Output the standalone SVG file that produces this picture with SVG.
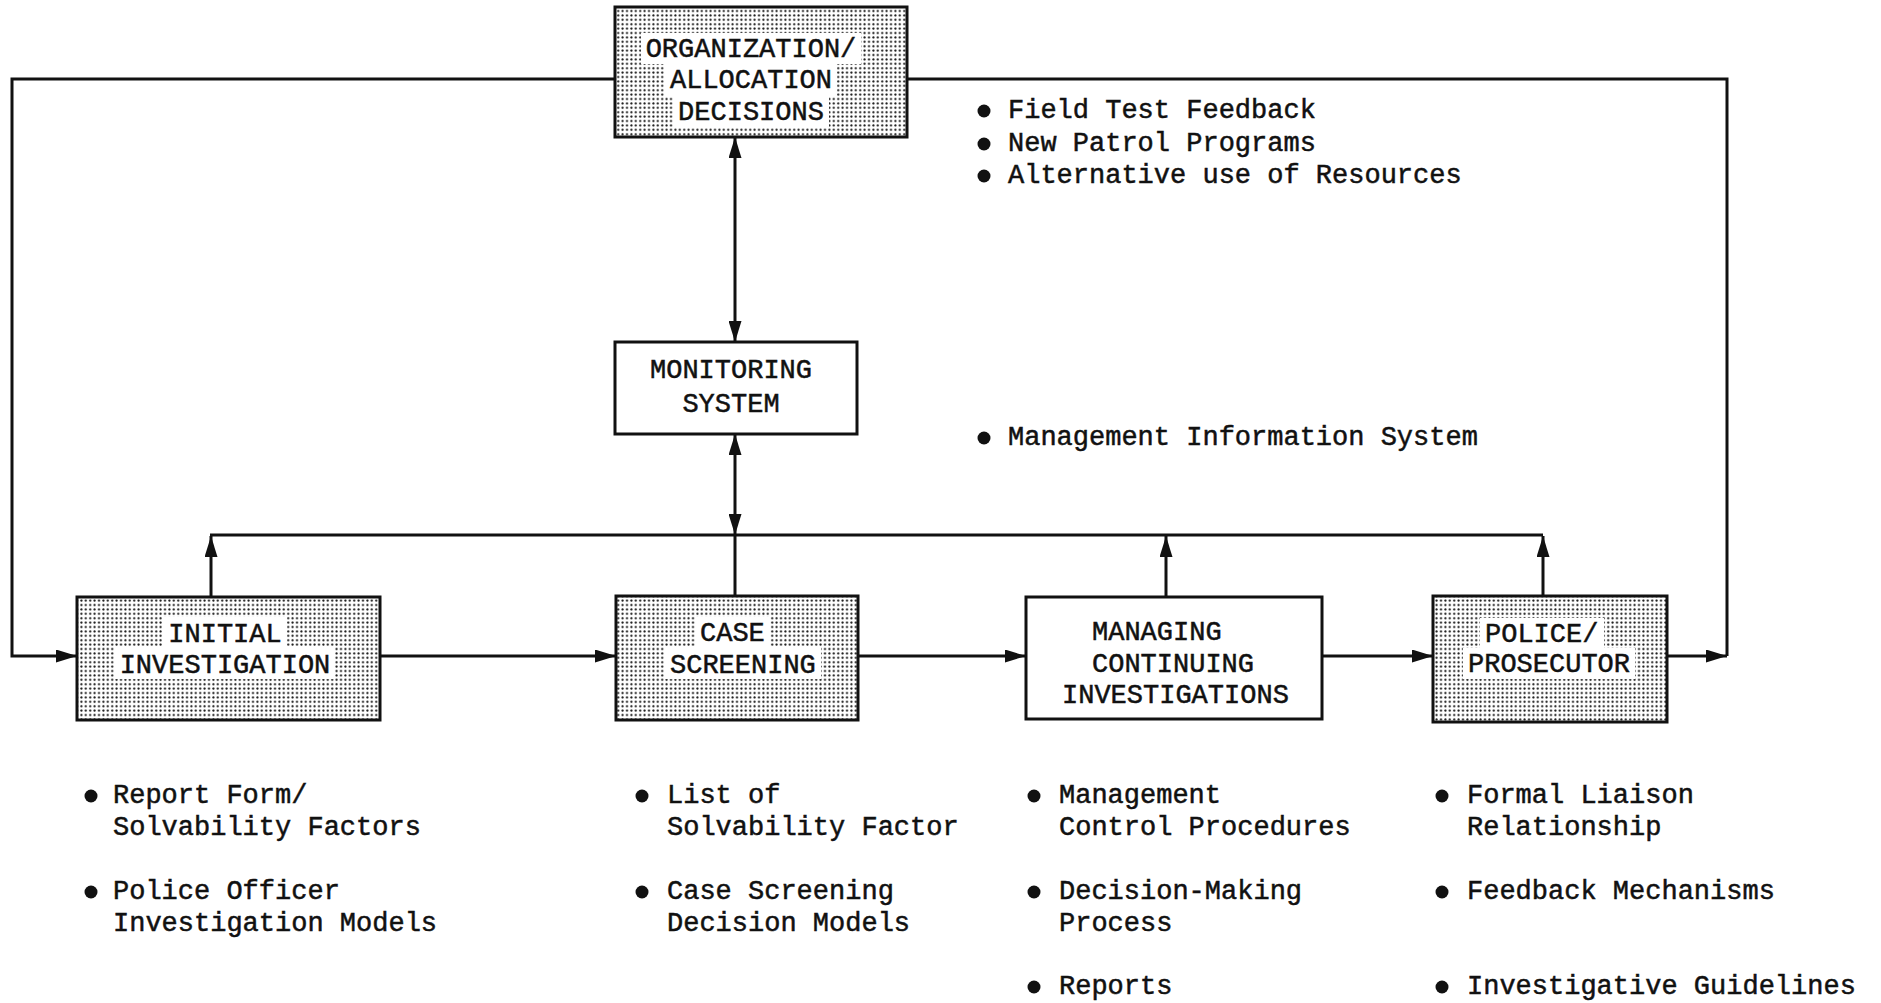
<svg xmlns="http://www.w3.org/2000/svg" width="1881" height="1003" viewBox="0 0 1881 1003">
  <style>
    .box { stroke: #111; stroke-width: 3; }
    .plain { fill: #fff; }
    .shaded { fill: url(#screen); }
    .clear { fill: #fff; }
    .lbl { font-family: "Liberation Mono", "DejaVu Sans Mono", monospace; font-size: 27px; fill: #111; stroke: #111; stroke-width: 0.5; }
    .note { font-family: "Liberation Mono", "DejaVu Sans Mono", monospace; font-size: 27px; fill: #111; stroke: #111; stroke-width: 0.5; }
    .dot { fill: #111; }
    .wire { fill: none; stroke: #111; stroke-width: 3; }
  </style>
  <defs>
    <!-- halftone dot screen used for the shaded boxes -->
    <pattern id="screen" width="4.4" height="4.4" patternUnits="userSpaceOnUse">
      <rect width="4.4" height="4.4" fill="#fff"/>
      <circle cx="2.2" cy="2.2" r="1.05" fill="#111"/>
    </pattern>
    <marker id="head" viewBox="0 0 21 13" refX="21" refY="6.5" markerWidth="21" markerHeight="13" markerUnits="userSpaceOnUse" orient="auto-start-reverse">
      <path d="M0,0 L21,6.5 L0,13 z" fill="#111"/>
    </marker>
  </defs>

  <rect width="1881" height="1003" fill="#fff"/>

  <!-- connectors -->
  <g id="connectors">
    <!-- outer feedback loop from the decision box -->
    <path class="wire" d="M615,79 H12 V656 H77" marker-end="url(#head)"/>
    <path class="wire" d="M907,79 H1727 V656"/>
    <!-- decisions <-> monitoring -->
    <path class="wire" d="M735,137 V342" marker-start="url(#head)" marker-end="url(#head)"/>
    <!-- monitoring <-> bus -->
    <path class="wire" d="M735,434 V535" marker-start="url(#head)" marker-end="url(#head)"/>
    <!-- shared reporting bus -->
    <path class="wire" d="M210,535 H1543"/>
    <path class="wire" d="M735,535 V596"/>
    <path class="wire" d="M211,597 V536" marker-end="url(#head)"/>
    <path class="wire" d="M1166,597 V536" marker-end="url(#head)"/>
    <path class="wire" d="M1543,596 V536" marker-end="url(#head)"/>
    <!-- main process flow -->
    <path class="wire" d="M380,656 H616" marker-end="url(#head)"/>
    <path class="wire" d="M858,656 H1026" marker-end="url(#head)"/>
    <path class="wire" d="M1322,656 H1433" marker-end="url(#head)"/>
    <path class="wire" d="M1667,656 H1727" marker-end="url(#head)"/>
  </g>

  <!-- nodes -->
  <g id="organization-allocation">
    <rect class="box shaded" x="615" y="7" width="292" height="130"/>
    <rect class="clear" x="641" y="33" width="220" height="31"/>
    <rect class="clear" x="665" y="64" width="172" height="32"/>
    <rect class="clear" x="673" y="96" width="156" height="31"/>
    <text class="lbl" x="751" y="57" text-anchor="middle">ORGANIZATION/</text>
    <text class="lbl" x="751" y="88" text-anchor="middle">ALLOCATION</text>
    <text class="lbl" x="751" y="120" text-anchor="middle">DECISIONS</text>
  </g>

  <g id="monitoring-system">
    <rect class="box plain" x="615" y="342" width="242" height="92"/>
    <text class="lbl" x="731" y="378" text-anchor="middle">MONITORING</text>
    <text class="lbl" x="731" y="412" text-anchor="middle">SYSTEM</text>
  </g>

  <g id="initial-investigation">
    <rect class="box shaded" x="77" y="597" width="303" height="123"/>
    <rect class="clear" x="163" y="617" width="124" height="30"/>
    <rect class="clear" x="115" y="647" width="220" height="32"/>
    <text class="lbl" x="225" y="642" text-anchor="middle">INITIAL</text>
    <text class="lbl" x="225" y="673" text-anchor="middle">INVESTIGATION</text>
  </g>

  <g id="case-screening">
    <rect class="box shaded" x="616" y="596" width="242" height="124"/>
    <rect class="clear" x="695" y="617" width="75" height="30"/>
    <rect class="clear" x="665" y="647" width="156" height="32"/>
    <text class="lbl" x="700" y="641">CASE</text>
    <text class="lbl" x="670" y="673">SCREENING</text>
  </g>

  <g id="managing-continuing">
    <rect class="box plain" x="1026" y="597" width="296" height="122"/>
    <text class="lbl" x="1092" y="640">MANAGING</text>
    <text class="lbl" x="1092" y="672">CONTINUING</text>
    <text class="lbl" x="1062" y="703">INVESTIGATIONS</text>
  </g>

  <g id="police-prosecutor">
    <rect class="box shaded" x="1433" y="596" width="234" height="126"/>
    <rect class="clear" x="1480" y="618" width="124" height="30"/>
    <rect class="clear" x="1463" y="648" width="172" height="31"/>
    <text class="lbl" x="1485" y="642">POLICE/</text>
    <text class="lbl" x="1468" y="672">PROSECUTOR</text>
  </g>

  <!-- bullet lists -->
  <g id="notes-decisions">
    <circle class="dot" cx="984" cy="111" r="6.5"/>
    <circle class="dot" cx="984" cy="144" r="6.5"/>
    <circle class="dot" cx="984" cy="176" r="6.5"/>
    <text class="note" x="1008" y="118">Field Test Feedback</text>
    <text class="note" x="1008" y="151">New Patrol Programs</text>
    <text class="note" x="1008" y="183">Alternative use of Resources</text>
  </g>

  <g id="notes-monitoring">
    <circle class="dot" cx="984" cy="438" r="6.5"/>
    <text class="note" x="1008" y="445">Management Information System</text>
  </g>

  <g id="notes-initial">
    <circle class="dot" cx="91" cy="796" r="6.5"/>
    <text class="note" x="113" y="803">Report Form/</text>
    <text class="note" x="113" y="835">Solvability Factors</text>
    <circle class="dot" cx="91" cy="892" r="6.5"/>
    <text class="note" x="113" y="899">Police Officer</text>
    <text class="note" x="113" y="931">Investigation Models</text>
  </g>

  <g id="notes-screening">
    <circle class="dot" cx="642" cy="796" r="6.5"/>
    <text class="note" x="667" y="803">List of</text>
    <text class="note" x="667" y="835">Solvability Factor</text>
    <circle class="dot" cx="642" cy="892" r="6.5"/>
    <text class="note" x="667" y="899">Case Screening</text>
    <text class="note" x="667" y="931">Decision Models</text>
  </g>

  <g id="notes-managing">
    <circle class="dot" cx="1034" cy="796" r="6.5"/>
    <text class="note" x="1059" y="803">Management</text>
    <text class="note" x="1059" y="835">Control Procedures</text>
    <circle class="dot" cx="1034" cy="892" r="6.5"/>
    <text class="note" x="1059" y="899">Decision-Making</text>
    <text class="note" x="1059" y="931">Process</text>
    <circle class="dot" cx="1034" cy="987" r="6.5"/>
    <text class="note" x="1059" y="994">Reports</text>
  </g>

  <g id="notes-police">
    <circle class="dot" cx="1442" cy="796" r="6.5"/>
    <text class="note" x="1467" y="803">Formal Liaison</text>
    <text class="note" x="1467" y="835">Relationship</text>
    <circle class="dot" cx="1442" cy="892" r="6.5"/>
    <text class="note" x="1467" y="899">Feedback Mechanisms</text>
    <circle class="dot" cx="1442" cy="987" r="6.5"/>
    <text class="note" x="1467" y="994">Investigative Guidelines</text>
  </g>
</svg>
